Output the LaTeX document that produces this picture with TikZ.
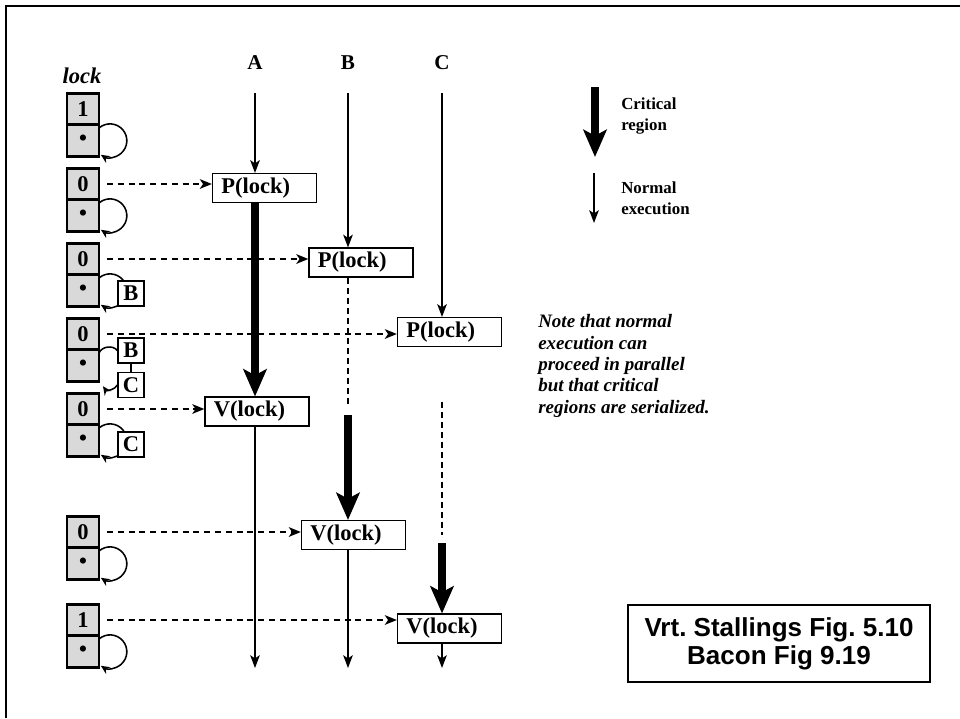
\documentclass[tikz,border=0pt]{standalone}
\usepackage{fontspec}
\setmainfont{Liberation Serif}
\setsansfont{Liberation Sans}
\usetikzlibrary{arrows.meta,positioning}
\definecolor{lockgray}{RGB}{217,217,217}
\tikzset{
  lockcell/.style={draw,fill=lockgray,line width=2.1pt,outer sep=0pt,inner sep=0pt,
                   minimum width=0.8cm,minimum height=0.79cm,
                   font=\bfseries\fontsize{16}{16}\selectfont},
  tag/.style={draw,fill=white,line width=0.9pt,inner sep=0pt,
              minimum width=0.65cm,minimum height=0.62cm,
              font=\bfseries\fontsize{16}{16}\selectfont},
  op/.style={draw,fill=white,line width=0.9pt,text width=2.15cm,
             inner xsep=0.225cm,inner ysep=0pt,minimum height=0.72cm,align=left,
             font=\bfseries\fontsize{16}{18}\selectfont},
  hdr/.style={font=\bfseries\fontsize{15}{15}\selectfont},
  legtxt/.style={align=left,inner sep=0pt,font=\bfseries\fontsize{12}{15}\selectfont},
  note/.style={align=left,inner sep=0pt,font=\bfseries\itshape\fontsize{13.5}{15.2}\selectfont},
  ref/.style={draw,line width=1.5pt,align=center,minimum width=7.55cm,minimum height=1.925cm,
              font=\sffamily\bfseries\fontsize{18.5}{19.9}\selectfont\frenchspacing},
  norm/.style={-{Stealth[length=0.32cm,width=0.24cm,inset=0.08cm]},line width=1.1pt},
  crit/.style={-{Stealth[length=0.68cm,width=0.58cm,inset=0.15cm]},line width=5pt},
  wait/.style={line width=0.8pt,dash pattern=on 0.15cm off 0.1cm},
  req/.style={-{Stealth[length=0.3cm,width=0.24cm,inset=0.08cm]},line width=1.4pt,
              dash pattern=on 0.15cm off 0.12cm,shorten <=0.2cm},
  loopy/.style={-{Stealth[length=0.22cm,width=0.2cm]},line width=1.1pt},
}

\begin{document}
\begin{tikzpicture}[x=0.025cm,y=-0.025cm]
  \useasboundingbox (0,0) rectangle (960,718);
  % outer frame
  \draw[line width=1.8pt] (6,718) -- (6,6) -- (960,6);

  % lock states
  \node[font=\bfseries\itshape\fontsize{16}{16}\selectfont] (locklab) at (82,76) {lock};
  \node[lockcell] (v1) at (83,109) {1};
  \node[lockcell,below=0pt of v1] (d1) {\textbullet};
  \node[lockcell] (v2) at (83,184) {0};
  \node[lockcell,below=0pt of v2] (d2) {\textbullet};
  \node[lockcell] (v3) at (83,259) {0};
  \node[lockcell,below=0pt of v3] (d3) {\textbullet};
  \node[lockcell] (v4) at (83,334) {0};
  \node[lockcell,below=0pt of v4] (d4) {\textbullet};
  \node[lockcell] (v5) at (83,409) {0};
  \node[lockcell,below=0pt of v5] (d5) {\textbullet};
  \node[lockcell] (v6) at (83,532) {0};
  \node[lockcell,below=0pt of v6] (d6) {\textbullet};
  \node[lockcell] (v7) at (83,620) {1};
  \node[lockcell,below=0pt of v7] (d7) {\textbullet};

  % wait queues
  \draw[loopy] ([yshift=-0.08cm]d1.north east) arc[start angle=131,end angle=-123,radius=0.42cm];
  \draw[loopy] ([yshift=-0.08cm]d2.north east) arc[start angle=131,end angle=-123,radius=0.42cm];
  \draw[loopy] ([yshift=-0.08cm]d3.north east) arc[start angle=131,end angle=-123,radius=0.42cm];
  \draw[loopy] ([yshift=-0.08cm]d5.north east) arc[start angle=131,end angle=-123,radius=0.42cm];
  \draw[loopy] ([yshift=-0.08cm]d6.north east) arc[start angle=131,end angle=-123,radius=0.42cm];
  \draw[loopy] ([yshift=-0.08cm]d7.north east) arc[start angle=131,end angle=-123,radius=0.42cm];
  \node[tag] (B3) at (131,293.5) {B};
  \node[tag] (B4) at (131,350.5) {B};
  \node[tag] (C4) at (131,385)   {C};
  \node[tag] (C5) at (131,444.5) {C};
  \draw[line width=0.9pt] (B4) -- (C4);
  \draw[line width=1.1pt] ([yshift=-0.08cm]d4.north east) to[bend left=60] (B4.west);
  \draw[loopy] (C4.west) to[bend left=60] ([xshift=0.1cm,yshift=-0.12cm]d4.south east);

  % processes
  \node[hdr] (Alab) at (255,63) {A};
  \node[hdr] (Blab) at (348,63) {B};
  \node[hdr] (Clab) at (442,63) {C};
  \coordinate (Atop) at (255,93);
  \coordinate (Btop) at (348,93);
  \coordinate (Ctop) at (442,93);
  \coordinate (Abot) at (255,668);
  \coordinate (Bbot) at (348,668);
  \coordinate (Cbot) at (442,668);

  \node[op] (PA) at (264.5,188)   {P(lock)};
  \node[op] (PB) at (361,262.5)   {P(lock)};
  \node[op] (PC) at (449.5,332)   {P(lock)};
  \node[op] (VA) at (257,411.5)   {V(lock)};
  \node[op] (VB) at (353.5,535)   {V(lock)};
  \node[op] (VC) at (449.5,628.5) {V(lock)};

  % column A
  \draw[norm] (Atop) -- (Atop |- PA.north);
  \draw[crit] (PA.south -| Atop) -- (VA.north -| Atop);
  \draw[norm] (VA.south -| Atop) -- (Abot);
  % column B
  \coordinate (Bwait) at (348,407);
  \coordinate (Bcrit) at (348,415);
  \draw[norm] (Btop) -- (Btop |- PB.north);
  \draw[wait] (PB.south -| Btop) -- (Bwait);
  \draw[crit] (Bcrit) -- (VB.north -| Btop);
  \draw[norm] (VB.south -| Btop) -- (Bbot);
  % column C
  \coordinate (Cwait1) at (442,402);
  \coordinate (Cwait2) at (442,535);
  \coordinate (Ccrit) at (442,543);
  \draw[norm] (Ctop) -- (Ctop |- PC.north);
  \draw[wait] (Cwait1) -- (Cwait2);
  \draw[crit] (Ccrit) -- (VC.north -| Ctop);
  \draw[norm] (VC.south -| Ctop) -- (Cbot);

  % lock value to P/V
  \draw[req] (v2.east) -- (v2.east -| PA.west);
  \draw[req] (v3.east) -- (v3.east -| PB.west);
  \draw[req] (v4.east) -- (v4.east -| PC.west);
  \draw[req] (v5.east) -- (v5.east -| VA.west);
  \draw[req] (v6.east) -- (v6.east -| VB.west);
  \draw[req] (v7.east) -- (v7.east -| VC.west);

  % legend
  \coordinate (LCtop) at (595,87);
  \coordinate (LCbot) at (595,157);
  \coordinate (LNtop) at (594,173);
  \coordinate (LNbot) at (594,223);
  \draw[crit] (LCtop) -- (LCbot);
  \draw[norm] (LNtop) -- (LNbot);
  \node[legtxt,anchor=west] (crittxt) at (621,116) {Critical\\region};
  \node[legtxt,anchor=west] (normtxt) at (621,198) {Normal\\execution};

  \node[note,anchor=west] (note) at (538,366)
    {Note that normal\\execution can\\proceed in parallel\\but that critical\\regions are serialized.};

  \node[ref] (refbox) at (779,643.5) {Vrt. Stallings Fig. 5.10\\Bacon Fig 9.19};
\end{tikzpicture}
\end{document}
